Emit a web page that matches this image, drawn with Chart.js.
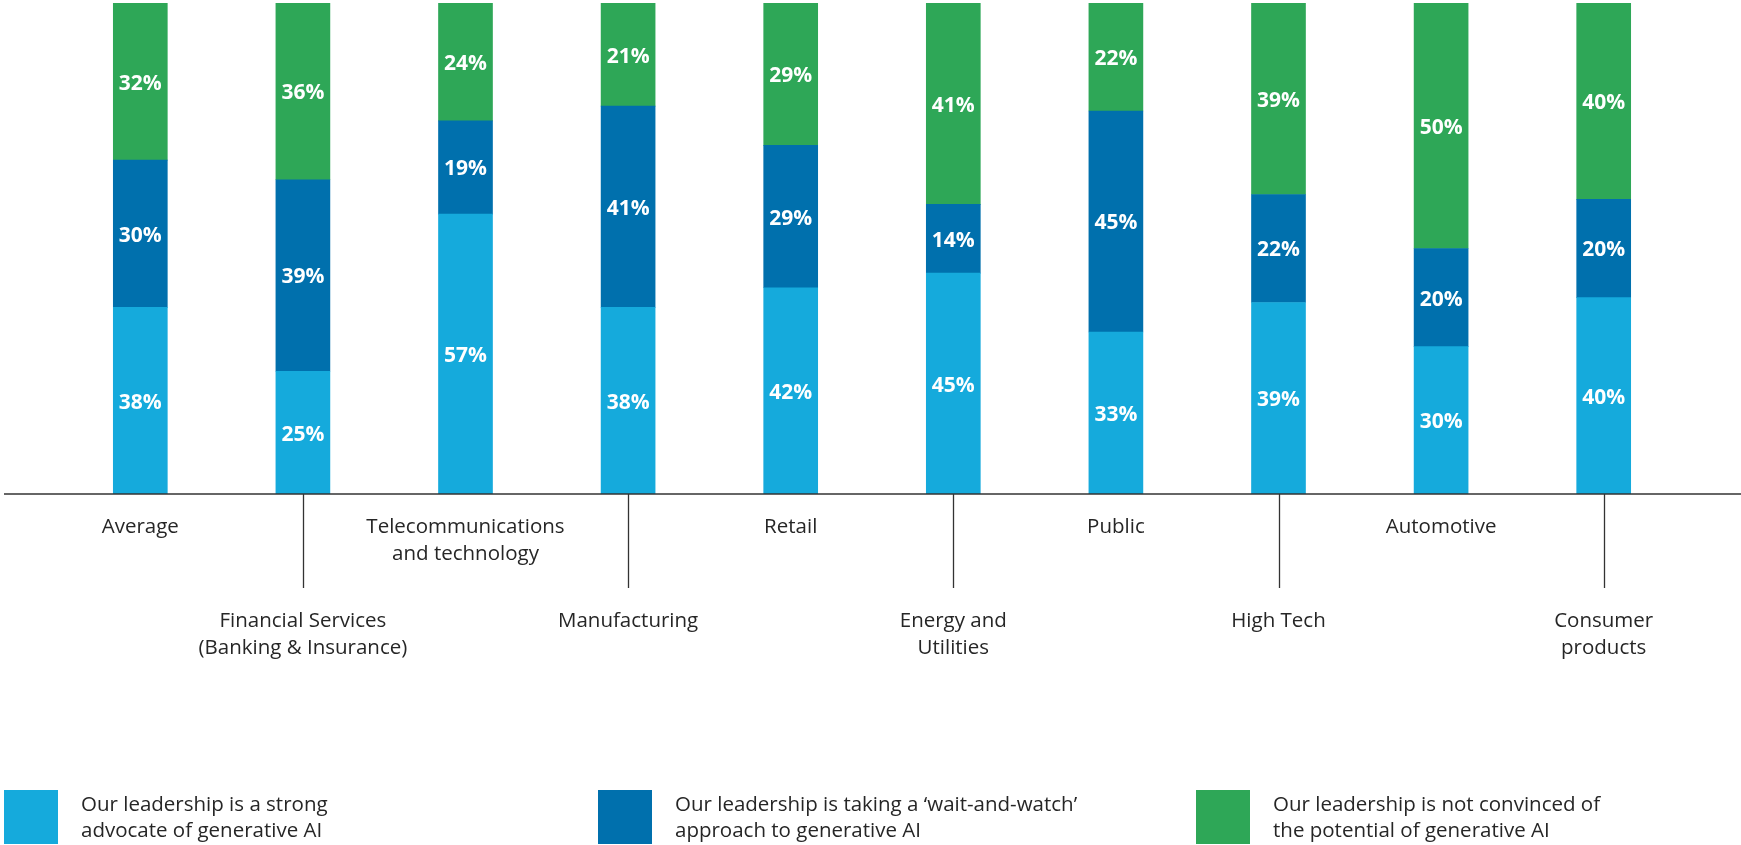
<!DOCTYPE html>
<html>
<head>
<meta charset="utf-8">
<script src="https://cdn.jsdelivr.net/npm/chart.js@4/dist/chart.umd.min.js"></script>
<style>
    html, body { margin: 0; padding: 0; background: #fff; }
    #wrap { width: 1741px; height: 845px; }
</style>
</head>
<body>
<div id="wrap"><canvas id="chart" width="1741" height="845"></canvas></div>
<script>
// --- DONNÉES ---
const categories = [
    ['Average'],
    ['Financial Services', '(Banking & Insurance)'],
    ['Telecommunications', 'and technology'],
    ['Manufacturing'],
    ['Retail'],
    ['Energy and', 'Utilities'],
    ['Public'],
    ['High Tech'],
    ['Automotive'],
    ['Consumer', 'products']
];
const advocate     = [38, 25, 57, 38, 42, 45, 33, 39, 30, 40];
const waitAndWatch = [30, 39, 19, 41, 29, 14, 45, 22, 20, 20];
const notConvinced = [32, 36, 24, 21, 29, 41, 22, 39, 50, 40];

const seriesNames = [
    ['Our leadership is a strong', 'advocate of generative AI'],
    ['Our leadership is taking a \u2018wait-and-watch\u2019', 'approach to generative AI'],
    ['Our leadership is not convinced of', 'the potential of generative AI']
];
const seriesColors = ['#15aadc', '#0070ad', '#2ea757'];

const FONT = '"Open Sans", sans-serif';
const TEXT_COLOR = '#262626';

// --- PLUGINS ---
// valeurs en % au centre de chaque segment
const segmentLabels = {
    id: 'segmentLabels',
    afterDatasetsDraw(chart) {
        const ctx = chart.ctx;
        ctx.save();
        ctx.fillStyle = '#fff';
        ctx.font = 'bold 21px ' + FONT;
        ctx.textAlign = 'center';
        ctx.textBaseline = 'middle';
        chart.data.datasets.forEach((ds, di) => {
            chart.getDatasetMeta(di).data.forEach((bar, i) => {
                ctx.fillText(ds.data[i] + '%', bar.x, (bar.y + bar.base) / 2 + 2);
            });
        });
        ctx.restore();
    }
};

// ligne de base, traits de séparation et libellés en quinconce
const categoryAxis = {
    id: 'categoryAxis',
    afterDraw(chart) {
        const ctx = chart.ctx;
        const x = chart.scales.x;
        const y0 = chart.scales.y.getPixelForValue(0);
        ctx.save();
        ctx.strokeStyle = '#333';
        ctx.lineWidth = 1.5;
        ctx.beginPath();
        ctx.moveTo(4, y0);
        ctx.lineTo(chart.width, y0);
        ctx.stroke();

        ctx.font = '400 20.5px ' + FONT;
        ctx.fillStyle = TEXT_COLOR;
        ctx.textAlign = 'center';
        ctx.textBaseline = 'middle';
        categories.forEach((lines, i) => {
            const cx = x.getPixelForValue(i);
            const low = i % 2 === 1;
            if (low) {
                const px = Math.round(cx) + 0.5;
                ctx.lineWidth = 1.3;
                ctx.beginPath();
                ctx.moveTo(px, y0);
                ctx.lineTo(px, y0 + 94);
                ctx.stroke();
            }
            const top = y0 + (low ? 127 : 33);
            lines.forEach((t, k) => ctx.fillText(t, cx, top + k * 27));
        });
        ctx.restore();
    }
};

// légende en bas, carrés de couleur + texte sur deux lignes
const bottomLegend = {
    id: 'bottomLegend',
    afterDraw(chart) {
        const ctx = chart.ctx;
        const starts = [4, 598, 1196];
        ctx.save();
        ctx.font = '400 20.5px ' + FONT;
        ctx.textBaseline = 'middle';
        ctx.textAlign = 'left';
        seriesNames.forEach((lines, i) => {
            ctx.fillStyle = seriesColors[i];
            ctx.fillRect(starts[i], 790, 54, 54);
            ctx.fillStyle = TEXT_COLOR;
            lines.forEach((t, k) => ctx.fillText(t, starts[i] + 77, 805 + k * 26));
        });
        ctx.restore();
    }
};

// --- LE GRAPHIQUE ---
const ctx = document.getElementById('chart');
new Chart(ctx, {
    type: 'bar',
    data: {
        labels: categories,
        datasets: [
            { label: 'advocate', data: advocate, backgroundColor: seriesColors[0] },
            { label: 'wait-and-watch', data: waitAndWatch, backgroundColor: seriesColors[1] },
            { label: 'not convinced', data: notConvinced, backgroundColor: seriesColors[2] }
        ].map(ds => ({ ...ds, barThickness: 54, borderWidth: 0 }))
    },
    options: {
        responsive: false,
        animation: false,
        layout: { padding: { top: 3, bottom: 351, left: 59, right: 56 } },
        plugins: { legend: { display: false }, tooltip: { enabled: false } },
        scales: {
            x: { stacked: true, display: false, grid: { display: false } },
            y: { stacked: true, display: false, min: 0, max: 100 }
        }
    },
    plugins: [segmentLabels, categoryAxis, bottomLegend]
});
</script>
</body>
</html>
